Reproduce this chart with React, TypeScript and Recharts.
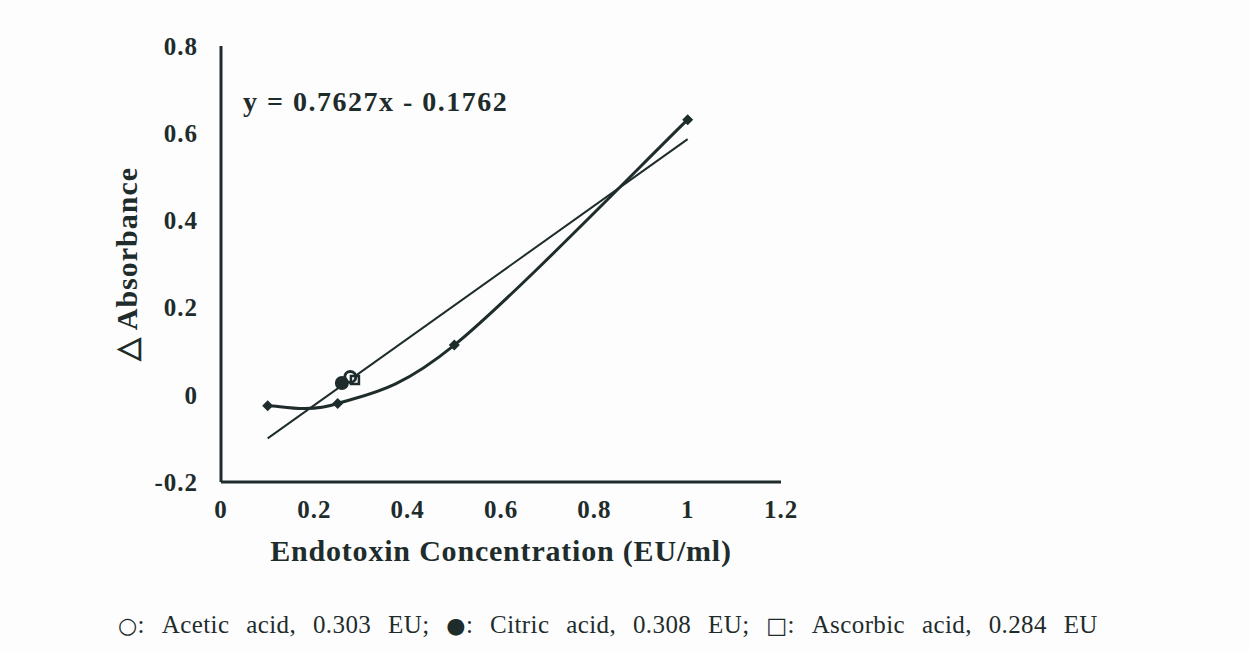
import React from 'react';
import { ComposedChart, Line, Scatter, XAxis, YAxis } from 'recharts';

const INK = '#1f2c2c';
const SERIF = '"Liberation Serif", "Times New Roman", serif';

// standard curve (diamonds, smoothed)
const concentrations = [0.1, 0.25, 0.5, 1.0];
const absorbances = [-0.025, -0.02, 0.114, 0.631];

// linear fit printed on the chart
const slope = 0.7627;
const intercept = -0.1762;
const fitRange = [0.1, 1.0];

// tested samples: open circle, filled circle, open square
const sampleNames = ['Acetic acid', 'Citric acid', 'Ascorbic acid'];
const sampleX = [0.277, 0.259, 0.287];
const sampleY = [0.041, 0.027, 0.034];
const sampleShapes = ['openCircle', 'filledCircle', 'openSquare'];

const xTicks = [0, 0.2, 0.4, 0.6, 0.8, 1, 1.2];
const yTicks = [-0.2, 0, 0.2, 0.4, 0.6, 0.8];

const caption = '\u25CB: Acetic acid, 0.303 EU; \u25CF: Citric acid, 0.308 EU; \u25A1: Ascorbic acid, 0.284 EU';

const curveData = concentrations.map((x, i) => ({ x, y: absorbances[i] }));
const fitData = fitRange.map((x) => ({ x, fit: slope * x + intercept }));
const sampleData = sampleNames.map((name, i) => ({
  name,
  x: sampleX[i],
  y: sampleY[i],
  shape: sampleShapes[i],
}));

// spreadsheet-style smoothed line (catmull-rom like bezier through the points)
const smoothCurve = (context: any) => {
  let pts: number[][] = [];
  return {
    areaStart() {},
    areaEnd() {},
    lineStart() {
      pts = [];
    },
    point(x: number, y: number) {
      pts.push([+x, +y]);
    },
    lineEnd() {
      const n = pts.length;
      if (!n) return;
      context.moveTo(pts[0][0], pts[0][1]);
      for (let i = 0; i < n - 1; i++) {
        const pp = pts[Math.max(i - 1, 0)];
        const p0 = pts[i];
        const p1 = pts[i + 1];
        const pn = pts[Math.min(i + 2, n - 1)];
        context.bezierCurveTo(
          p0[0] + (p1[0] - pp[0]) / 6,
          p0[1] + (p1[1] - pp[1]) / 6,
          p1[0] - (pn[0] - p0[0]) / 6,
          p1[1] - (pn[1] - p0[1]) / 6,
          p1[0],
          p1[1]
        );
      }
    },
  };
};

const Diamond = (props: any) => {
  const { cx, cy } = props;
  if (cx == null || cy == null) return null;
  const r = 5.5;
  return (
    <polygon
      points={`${cx - r},${cy} ${cx},${cy - r} ${cx + r},${cy} ${cx},${cy + r}`}
      fill={INK}
    />
  );
};

const SampleMark = (props: any) => {
  const { cx, cy, payload } = props;
  if (payload.shape === 'filledCircle') return <circle cx={cx} cy={cy} r={7} fill={INK} />;
  if (payload.shape === 'openCircle')
    return <circle cx={cx} cy={cy} r={5.5} fill="#fff" stroke={INK} strokeWidth={3} />;
  return (
    <rect x={cx - 4} y={cy - 4} width={8} height={8} fill="none" stroke={INK} strokeWidth={2.5} />
  );
};

const tickStyle = { fill: INK, fontFamily: SERIF, fontWeight: 700, fontSize: 25, letterSpacing: 1 };

const App: React.FC = () => {
  return (
    <div
      style={{
        position: 'absolute',
        left: 0,
        top: 0,
        width: 1249,
        height: 652,
        background: '#fdfdfd',
        fontFamily: SERIF,
        color: INK,
      }}
    >
      <ComposedChart width={1249} height={652} margin={{ top: 46, right: 468, bottom: 120, left: 0 }}>
        <XAxis
          type="number"
          dataKey="x"
          domain={[0, 1.2]}
          ticks={xTicks}
          height={50}
          allowDataOverflow
          axisLine={{ stroke: INK, strokeWidth: 3 }}
          tickLine={false}
          tickSize={0}
          tickMargin={18}
          tick={tickStyle}
          label={{
            value: 'Endotoxin Concentration (EU/ml)',
            position: 'bottom',
            offset: 8,
            style: { fill: INK, fontFamily: SERIF, fontWeight: 700, fontSize: 30, letterSpacing: 0.8 },
          }}
        />
        <YAxis
          type="number"
          domain={[-0.2, 0.8]}
          ticks={yTicks}
          width={221}
          allowDataOverflow
          axisLine={{ stroke: INK, strokeWidth: 3 }}
          tickLine={false}
          tickSize={0}
          tickMargin={23}
          tick={tickStyle}
          label={{
            value: '\u25B3 Absorbance',
            angle: -90,
            position: 'insideLeft',
            offset: 126,
            style: {
              fill: INK,
              fontFamily: SERIF,
              fontWeight: 700,
              fontSize: 30,
              letterSpacing: 1,
              textAnchor: 'middle',
            },
          }}
        />
        <Line
          data={fitData}
          dataKey="fit"
          type="linear"
          stroke={INK}
          strokeWidth={2}
          dot={false}
          isAnimationActive={false}
        />
        <Line
          data={curveData}
          dataKey="y"
          type={smoothCurve as any}
          stroke={INK}
          strokeWidth={3}
          dot={<Diamond />}
          isAnimationActive={false}
        />
        <Scatter data={sampleData} dataKey="y" shape={<SampleMark />} isAnimationActive={false} />
      </ComposedChart>
      <div
        style={{
          position: 'absolute',
          left: 243,
          top: 86,
          fontSize: 28,
          fontWeight: 700,
          letterSpacing: 1.5,
          whiteSpace: 'nowrap',
        }}
      >
        y = 0.7627x - 0.1762
      </div>
      <div
        style={{
          position: 'absolute',
          left: 118,
          top: 609,
          width: 980,
          height: 32,
          lineHeight: '32px',
          fontSize: 25,
          letterSpacing: 0.4,
          whiteSpace: 'nowrap',
          display: 'flex',
          alignItems: 'baseline',
          justifyContent: 'space-between',
        }}
      >
        {caption.split(' ').map((w, i) =>
          /^[\u25CB\u25CF\u25A1]/.test(w) ? (
            <span key={i}>
              <span style={{ fontSize: 22, fontFamily: '"DejaVu Sans", sans-serif' }}>{w[0]}</span>
              {w.slice(1)}
            </span>
          ) : (
            <span key={i}>{w}</span>
          )
        )}
      </div>
    </div>
  );
};

export default App;
